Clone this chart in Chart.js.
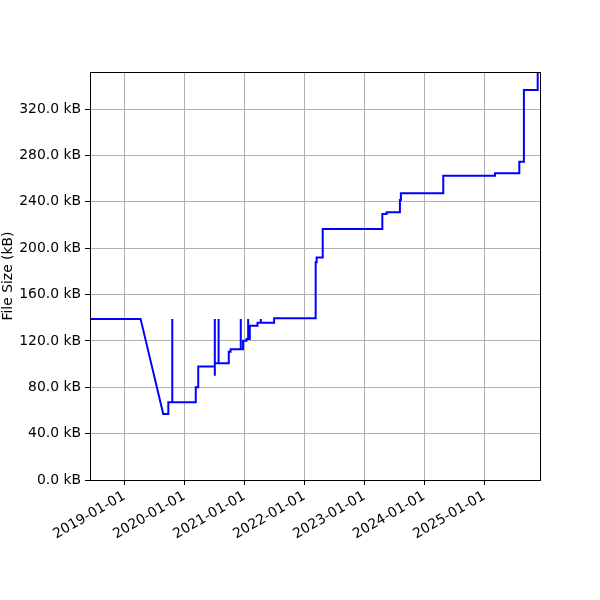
<!DOCTYPE html>
<html>
<head>
<meta charset="utf-8">
<script src="https://cdn.jsdelivr.net/npm/chart.js@4/dist/chart.umd.min.js"></script>
<style>
  html, body { margin: 0; padding: 0; background: #fff; }
  #wrap { width: 600px; height: 600px; }
</style>
</head>
<body>
<div id="wrap"><canvas id="sizeChart" width="600" height="600"></canvas></div>
<script>
// 数据：提交日期与文件大小 (kB)
const commitDates = [
  '2018-06-06', '2019-04-10', '2019-08-26', '2019-09-26', '2019-09-26',
  '2019-10-20', '2019-10-20', '2019-10-20', '2020-03-11', '2020-03-11',
  '2020-03-26', '2020-03-26', '2020-07-05', '2020-07-05', '2020-07-05',
  '2020-07-05', '2020-07-28', '2020-07-28', '2020-07-28', '2020-09-28',
  '2020-09-28', '2020-10-09', '2020-10-09', '2020-12-10', '2020-12-10',
  '2020-12-10', '2020-12-24', '2020-12-24', '2021-01-14', '2021-01-14',
  '2021-01-24', '2021-01-24', '2021-01-24', '2021-02-03', '2021-02-03',
  '2021-03-22', '2021-03-22', '2021-04-11', '2021-04-11', '2021-04-11',
  '2021-07-01', '2021-07-01', '2022-03-11', '2022-03-11', '2022-03-17',
  '2022-03-17', '2022-04-23', '2022-04-23', '2023-04-21', '2023-04-21',
  '2023-05-17', '2023-05-17', '2023-08-06', '2023-08-06', '2023-08-12',
  '2023-08-12', '2024-04-26', '2024-04-26', '2025-03-07', '2025-03-07',
  '2025-08-02', '2025-08-02', '2025-08-30', '2025-08-30', '2025-11-22',
  '2025-11-22'
];
const fileSizes = [
  139, 139, 57, 57, 67,
  67, 139, 67, 67, 80,
  80, 98, 98, 90, 139,
  100.7, 100.7, 139, 100.7, 100.7,
  110.7, 110.7, 112.8, 112.8, 139,
  112.8, 112.8, 120.2, 120.2, 121.7,
  121.7, 139, 121.7, 121.7, 133,
  133, 135.7, 135.7, 139, 135.7,
  135.7, 139.5, 139.5, 187.8, 187.8,
  192, 192, 216.6, 216.6, 229.5,
  229.5, 231, 231, 241.6, 241.6,
  247.4, 247.4, 262.5, 262.5, 264.6,
  264.6, 274.6, 274.6, 336.5, 336.5,
  360
];

// 坐标轴范围与刻度
const xRange = ['2018-06-06', '2025-12-06'];
const xTickDates = ['2019-01-01', '2020-01-01', '2021-01-01', '2022-01-01',
                    '2023-01-01', '2024-01-01', '2025-01-01'];
const yMax = 352;
const yTickValues = [0, 40, 80, 120, 160, 200, 240, 280, 320];

const toMs = s => Date.parse(s + 'T00:00:00Z');

const points = commitDates.map((d, i) => ({ x: toMs(d), y: fileSizes[i] }));

const FONT = { family: 'DejaVu Sans', size: 13.9 };

// 画出四周边框
const frameBox = {
  id: 'frameBox',
  afterDraw(chart) {
    const { ctx, chartArea: a } = chart;
    ctx.save();
    ctx.strokeStyle = '#000';
    ctx.lineWidth = 1;
    ctx.strokeRect(a.left + 0.5, a.top + 0.5, a.right - a.left, a.bottom - a.top);
    ctx.restore();
  }
};

new Chart(document.getElementById('sizeChart'), {
  type: 'line',
  data: {
    datasets: [{
      data: points,
      borderColor: '#0000ff',
      borderWidth: 2,
      pointRadius: 0,
      tension: 0,
      fill: false
    }]
  },
  options: {
    responsive: false,
    animation: false,
    events: [],
    layout: { padding: { top: 72, right: 60, left: 0, bottom: 0 } },
    plugins: {
      legend: { display: false },
      tooltip: { enabled: false }
    },
    scales: {
      x: {
        type: 'linear',
        min: toMs(xRange[0]),
        max: toMs(xRange[1]),
        afterBuildTicks(scale) {
          scale.ticks = xTickDates.map(d => ({ value: toMs(d) }));
        },
        afterFit(scale) { scale.height = 120; },
        grid: {
          color: '#b0b0b0',
          lineWidth: 1,
          drawTicks: true,
          tickLength: 5,
          tickColor: '#000',
          tickWidth: 1
        },
        border: { display: true, color: '#000', width: 1 },
        ticks: {
          autoSkip: false,
          minRotation: 30,
          maxRotation: 30,
          padding: 3,
          color: '#000',
          font: FONT,
          callback: v => new Date(v).toISOString().slice(0, 10)
        }
      },
      y: {
        type: 'linear',
        min: 0,
        max: yMax,
        afterBuildTicks(scale) {
          scale.ticks = yTickValues.map(v => ({ value: v }));
        },
        afterFit(scale) { scale.width = 90; },
        grid: {
          color: '#b0b0b0',
          lineWidth: 1,
          drawTicks: true,
          tickLength: 5,
          tickColor: '#000',
          tickWidth: 1
        },
        border: { display: true, color: '#000', width: 1 },
        title: {
          display: true,
          text: 'File Size (kB)',
          color: '#000',
          font: FONT,
          padding: 0
        },
        ticks: {
          padding: 4,
          color: '#000',
          font: FONT,
          callback: v => v.toFixed(1) + ' kB'
        }
      }
    }
  },
  plugins: [frameBox]
});
</script>
</body>
</html>
